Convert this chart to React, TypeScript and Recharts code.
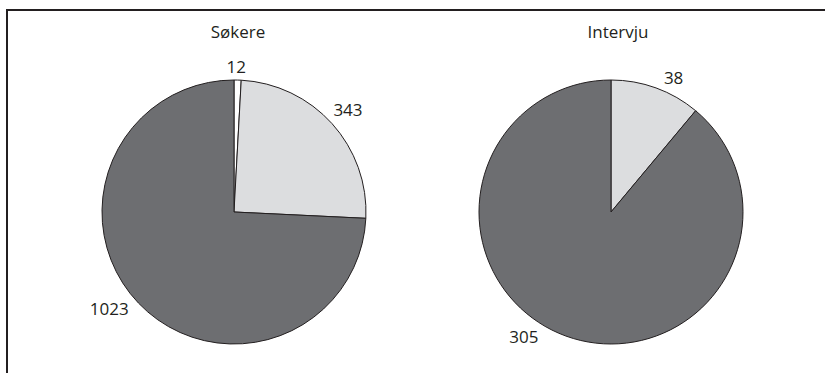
import { PieChart, Pie, Cell } from "recharts";

const applicantNames = ["Andre", "Utvalgt", "Øvrige"];
const applicantValues = [12, 343, 1023];

const interviewNames = ["Tilbud", "Øvrige"];
const interviewValues = [38, 305];

const sliceColors: Record<string, string> = {
  Andre: "#ffffff",
  Utvalgt: "#dcdddf",
  Tilbud: "#dcdddf",
  Øvrige: "#6d6e71",
};

// clockwise turn (degrees) applied to each value label so it clears the rim nicely
const applicantLabelTurn = [-0.7, 0, 6];
const interviewLabelTurn = [5, 15];

const INK = "#231f20";
const FONT = "'Open Sans', sans-serif";
const FONT_SIZE = 17;
const RADIUS = 132;
const GAP = 7;

const applicants = applicantNames.map((name, i) => ({ name, value: applicantValues[i] }));
const interviews = interviewNames.map((name, i) => ({ name, value: interviewValues[i] }));

// value label sitting just outside the rim, pushed out by half the text box
function makeLabel(turns: number[]) {
  return (props: any) => {
    const { cx, cy, midAngle, outerRadius, value, index } = props;
    const rad = (-(midAngle - (turns[index] || 0)) * Math.PI) / 180;
    const dx = Math.cos(rad);
    const dy = Math.sin(rad);
    const w = String(value).length * FONT_SIZE * 0.55;
    const h = FONT_SIZE * 0.72;
    const half = (Math.abs(dx) * w) / 2 + (Math.abs(dy) * h) / 2;
    const r = outerRadius + GAP + half;
    return (
      <text
        key={`lbl-${index}`}
        x={cx + r * dx}
        y={cy + r * dy}
        textAnchor="middle"
        dominantBaseline="central"
        fill={INK}
        fontFamily={FONT}
        fontSize={FONT_SIZE}
      >
        {value}
      </text>
    );
  };
}

const titleStyle = {
  position: "absolute" as const,
  top: 20,
  width: 200,
  textAlign: "center" as const,
  fontFamily: FONT,
  fontSize: FONT_SIZE,
  color: INK,
};

export default function App() {
  return (
    <div
      style={{
        position: "fixed",
        left: 0,
        top: 0,
        width: 825,
        height: 373,
        overflow: "hidden",
        background: "#fff",
      }}
    >
      <div
        style={{
          position: "absolute",
          left: 6,
          top: 9,
          width: 840,
          height: 400,
          border: `2px solid ${INK}`,
          boxSizing: "border-box",
        }}
      />
      <div style={{ ...titleStyle, left: 138 }}>Søkere</div>
      <div style={{ ...titleStyle, left: 518 }}>Intervju</div>
      <div style={{ position: "absolute", left: 0, top: 0 }}>
        <PieChart
          width={825}
          height={373}
          margin={{ top: 0, right: 0, bottom: 0, left: 0 }}
        >
          <Pie
            data={applicants}
            dataKey="value"
            nameKey="name"
            cx={234}
            cy={212}
            outerRadius={RADIUS}
            startAngle={90}
            endAngle={-270}
            stroke={INK}
            strokeWidth={1}
            label={makeLabel(applicantLabelTurn)}
            labelLine={false}
            isAnimationActive={false}
          >
            {applicants.map((d) => (
              <Cell key={d.name} fill={sliceColors[d.name]} />
            ))}
          </Pie>
          <Pie
            data={interviews}
            dataKey="value"
            nameKey="name"
            cx={611}
            cy={212}
            outerRadius={RADIUS}
            startAngle={90}
            endAngle={-270}
            stroke={INK}
            strokeWidth={1}
            label={makeLabel(interviewLabelTurn)}
            labelLine={false}
            isAnimationActive={false}
          >
            {interviews.map((d) => (
              <Cell key={d.name} fill={sliceColors[d.name]} />
            ))}
          </Pie>
        </PieChart>
      </div>
    </div>
  );
}
